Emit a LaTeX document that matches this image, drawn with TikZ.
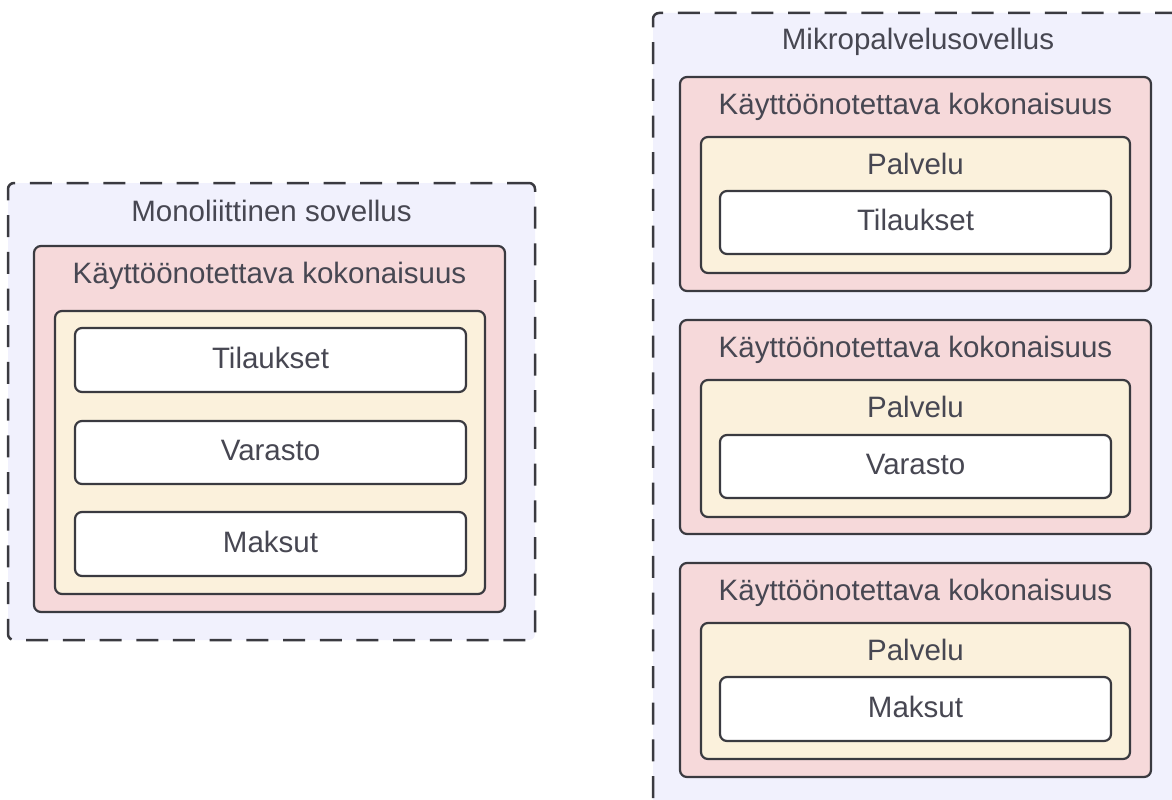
\documentclass[tikz,border=0pt]{standalone}
\usepackage{fontspec}
\setmainfont{Liberation Sans}
\definecolor{edge}{HTML}{3A3A40}
\definecolor{ink}{HTML}{474752}
\definecolor{appfill}{HTML}{F1F1FD}
\definecolor{unitfill}{HTML}{F6D9DA}
\definecolor{svcfill}{HTML}{FBF1DC}
% \panel{name}{style}{x1}{y1}{x2}{y2}: a box given by two corners
\newcommand\panel[6]{%
  \node[#2, minimum width={(#5-#3)*1pt}, minimum height={(#6-#4)*1pt}]
    (#1) at ({(#3+#5)/2},{(#4+#6)/2}) {};}
\begin{document}
\begin{tikzpicture}[x=1pt,y=-1pt,
  frame/.style={draw=edge, line width=2.5pt, dash pattern=on 22pt off 14.7pt,
    rounded corners=6pt, fill=appfill, inner sep=0pt, outer sep=0pt},
  unitbox/.style={draw=edge, line width=2.2pt, rounded corners=7pt,
    fill=unitfill, inner sep=0pt, outer sep=0pt},
  svcbox/.style={unitbox, fill=svcfill},
  modbox/.style={unitbox, fill=white},
  lbl/.style={text=ink, font=\fontsize{29.5}{32}\selectfont, anchor=base, inner sep=0pt}]
\useasboundingbox (0,0) rectangle (1172,800);
\clip (0,0) rectangle (1172,800);

% monolithic application
\panel{mono}{frame}{8}{183}{535}{640}
\node[lbl] (monoT) at (271.5,221) {Monoliittinen sovellus};
\panel{monoU}{unitbox}{34}{246}{505}{612}
\node[lbl] (monoUT) at (269.5,283.5) {Käyttöönotettava kokonaisuus};
\panel{monoS}{svcbox}{55}{311}{485}{594}
\panel{mA}{modbox}{75}{328}{466}{392}
\node[lbl] (mAT) at (270.5,368) {Tilaukset};
\panel{mB}{modbox}{75}{421}{466}{484}
\node[lbl] (mBT) at (270.5,460.5) {Varasto};
\panel{mC}{modbox}{75}{512}{466}{576}
\node[lbl] (mCT) at (270.5,552) {Maksut};

% microservice application
\panel{micro}{frame}{653}{13}{1183}{830}
\node[lbl] (microT) at (918,50) {Mikropalvelusovellus};

\panel{u1}{unitbox}{680}{77}{1151}{291}
\node[lbl] (u1T) at (915.5,114.5) {Käyttöönotettava kokonaisuus};
\panel{s1}{svcbox}{701}{137}{1130}{273}
\node[lbl] (s1T) at (915.5,174.5) {Palvelu};
\panel{a1}{modbox}{720}{191}{1111}{254}
\node[lbl] (a1T) at (915.5,230.5) {Tilaukset};

\panel{u2}{unitbox}{680}{320}{1151}{534}
\node[lbl] (u2T) at (915.5,357.5) {Käyttöönotettava kokonaisuus};
\panel{s2}{svcbox}{701}{380}{1130}{517}
\node[lbl] (s2T) at (915.5,417.5) {Palvelu};
\panel{a2}{modbox}{720}{435}{1111}{498}
\node[lbl] (a2T) at (915.5,474.5) {Varasto};

\panel{u3}{unitbox}{680}{563}{1151}{777}
\node[lbl] (u3T) at (915.5,600.5) {Käyttöönotettava kokonaisuus};
\panel{s3}{svcbox}{701}{623}{1130}{759}
\node[lbl] (s3T) at (915.5,660.5) {Palvelu};
\panel{a3}{modbox}{720}{677}{1111}{741}
\node[lbl] (a3T) at (915.5,717) {Maksut};
\end{tikzpicture}
\end{document}
